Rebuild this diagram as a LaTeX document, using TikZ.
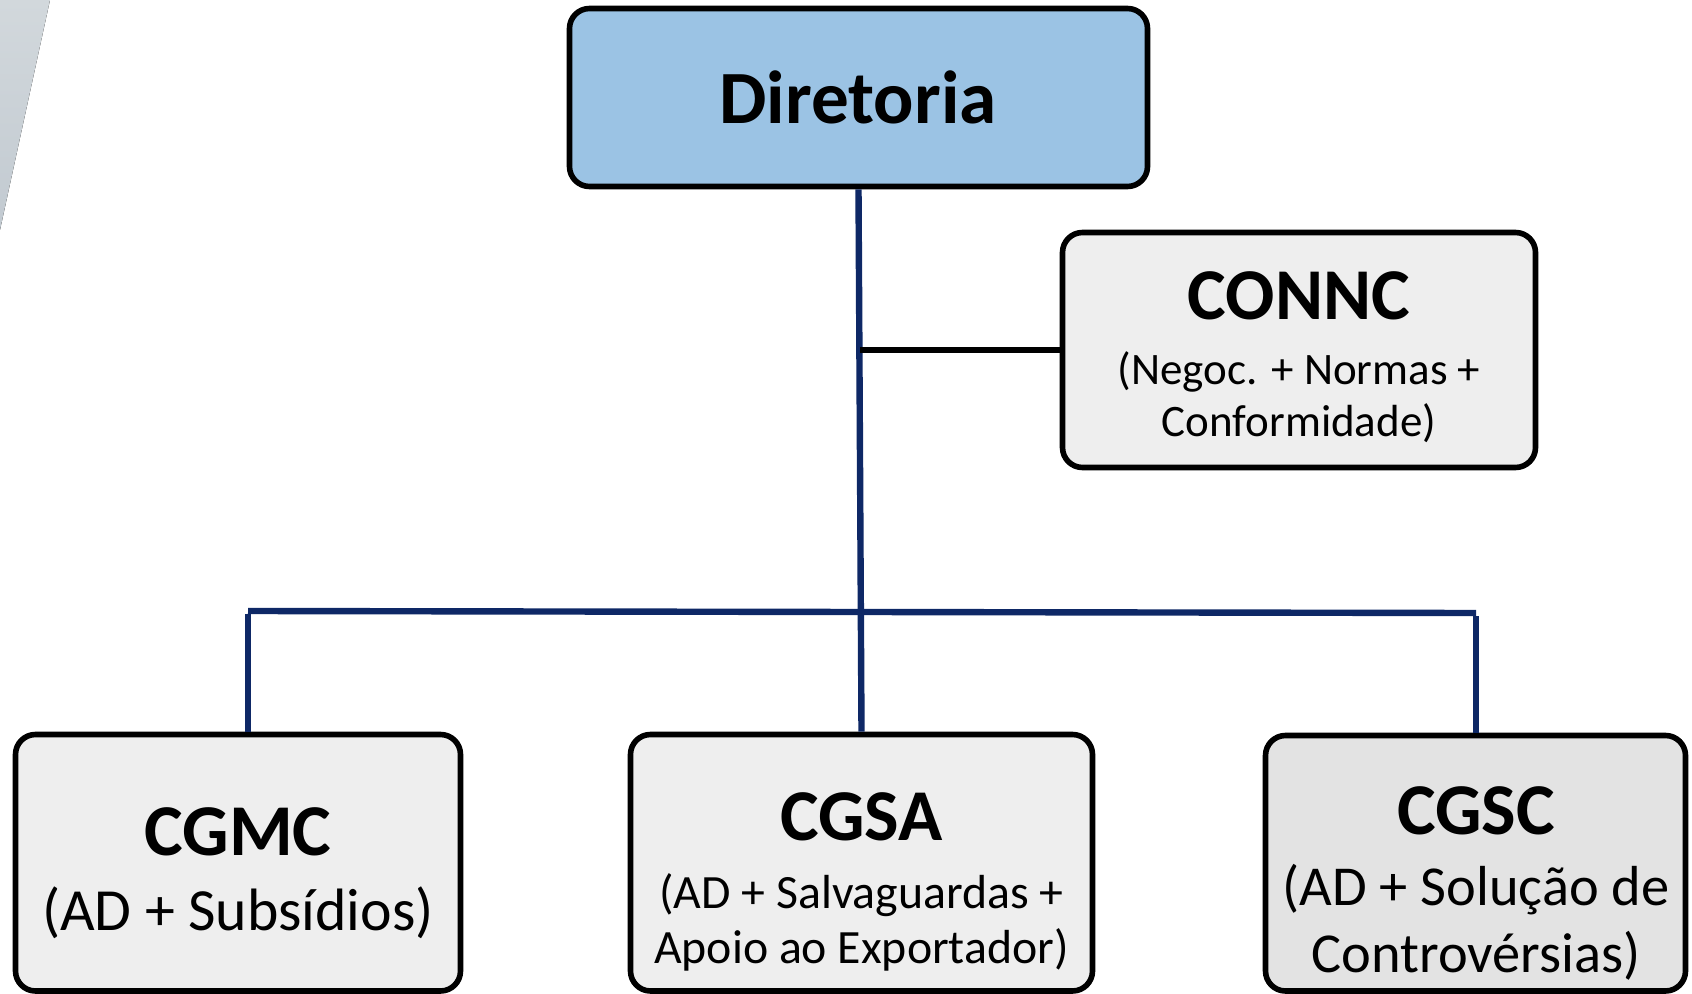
\documentclass[tikz,border=0pt]{standalone}
\usepackage{fontspec}
\setmainfont{Carlito}
\usetikzlibrary{calc}
\definecolor{navyline}{HTML}{0E2866}
\definecolor{dirblue}{HTML}{9BC3E4}
\definecolor{boxgray}{HTML}{EEEEEE}
\definecolor{boxgrayb}{HTML}{E3E3E3}
\definecolor{sidetop}{HTML}{D2D8DC}
\definecolor{sidebot}{HTML}{C2CAD1}
\tikzset{
  orgbox/.style={draw=black, line width=2.8pt, rounded corners=10pt, inner sep=0pt},
  title/.style={anchor=base, inner sep=0pt, font=\fontsize{36.5pt}{40pt}\selectfont\bfseries},
  subt/.style={anchor=base, inner sep=0pt},
  navy/.style={draw=navyline, line width=3.2pt},
  blk/.style={draw=black, line width=3pt}
}
\begin{document}
\begin{tikzpicture}[x=0.5pt,y=-0.5pt]
\useasboundingbox (0,0) rectangle (1692,994);
\clip (0,0) rectangle (1692,994);
\fill[top color=sidetop, bottom color=sidebot] (0,0) -- (50,0) -- (0,230) -- cycle;

% junction points
\coordinate (jc) at (860,350);
\coordinate (jl) at (248,611);
\coordinate (jr) at (1476,613);

% boxes
\node[orgbox, fill=dirblue, minimum width=289pt, minimum height=89pt] (dir) at (858.5,97.5) {};
\node[orgbox, fill=boxgray, minimum width=236.5pt, minimum height=117.5pt] (connc) at (1299,350) {};
\node[orgbox, fill=boxgray, minimum width=222.5pt, minimum height=128.25pt] (cgmc) at (238,862.75) {};
\node[orgbox, fill=boxgray, minimum width=231pt, minimum height=128.25pt] (cgsa) at (861.5,862.75) {};
\node[orgbox, fill=boxgrayb, minimum width=210pt, minimum height=127.75pt] (cgsc) at (1475.5,863.25) {};

% connectors
\draw[navy] (dir.south) -- (cgsa.north);
\draw[navy] (jl) -- (jr);
\draw[navy] ([yshift=-1.6pt]jl) -- (jl |- cgmc.north);
\draw[navy] ([yshift=-1.6pt]jr) -- (jr |- cgsc.north);
\draw[blk] (jc) -- (connc.west);

% texts
\node[title, font=\fontsize{37.6pt}{41pt}\selectfont\bfseries] (tdir) at (858,124) {Diretoria};
\node[title] (tconnc) at (1299,320) {CONNC};
\node[subt, font=\fontsize{22.5pt}{24pt}\selectfont] (sconnc1) at (1299,385) {(Negoc. + Normas +};
\node[subt, font=\fontsize{22.5pt}{24pt}\selectfont] (sconnc2) at (1299,437) {Conformidade)};
\node[title] (tcgmc) at (238,855) {CGMC};
\node[subt, font=\fontsize{29.9pt}{32pt}\selectfont] (scgmc) at (238,930) {(AD + Subsídios)};
\node[title] (tcgsa) at (861.5,840) {CGSA};
\node[subt, font=\fontsize{23.9pt}{26pt}\selectfont] (scgsa1) at (861.5,908) {(AD + Salvaguardas +};
\node[subt, font=\fontsize{23.9pt}{26pt}\selectfont] (scgsa2) at (861.5,963) {Apoio ao Exportador)};
\node[title] (tcgsc) at (1476,834) {CGSC};
\node[subt, font=\fontsize{28.2pt}{30pt}\selectfont] (scgsc1) at (1476,905) {(AD + Solução de};
\node[subt, font=\fontsize{28.2pt}{30pt}\selectfont] (scgsc2) at (1476,972) {Controvérsias)};
\end{tikzpicture}
\end{document}
